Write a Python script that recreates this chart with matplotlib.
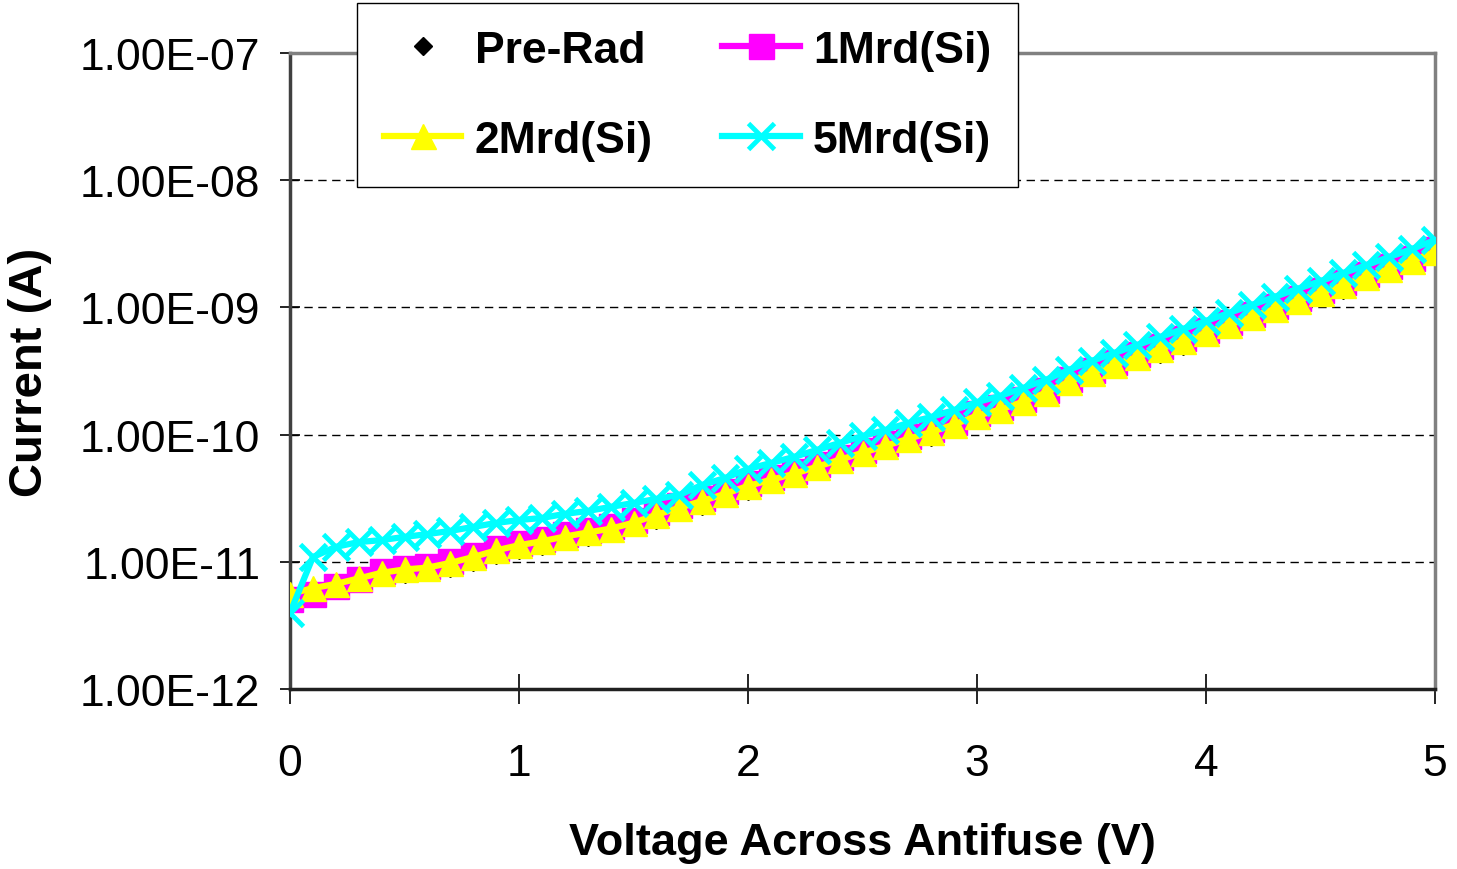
import numpy as np
import matplotlib
matplotlib.use("Agg")
import matplotlib.pyplot as plt
from matplotlib.ticker import FixedLocator, FixedFormatter

plt.rcParams['font.family'] = ['Liberation Sans', 'DejaVu Sans']

# sweep voltage, 0 to 5 V in 0.1 V steps
voltage = [round(0.1 * i, 1) for i in range(51)]

# current (A)
pre_rad = [5.2e-12, 5.8e-12, 6.1e-12, 6.9e-12, 7.6e-12, 8.0e-12, 8.3e-12, 9.0e-12, 1.00e-11, 1.13e-11,
           1.24e-11, 1.33e-11, 1.45e-11, 1.56e-11, 1.67e-11, 1.87e-11, 2.15e-11, 2.45e-11, 2.77e-11, 3.15e-11,
           3.63e-11, 4.06e-11, 4.52e-11, 5.13e-11, 5.83e-11, 6.61e-11, 7.51e-11, 8.52e-11, 9.66e-11, 1.10e-10,
           1.30e-10, 1.44e-10, 1.67e-10, 1.96e-10, 2.39e-10, 2.82e-10, 3.25e-10, 3.76e-10, 4.34e-10, 5.01e-10,
           5.81e-10, 6.72e-10, 7.76e-10, 8.97e-10, 1.04e-9, 1.20e-9, 1.38e-9, 1.60e-9, 1.85e-9, 2.14e-9,
           2.52e-9]
mrd1 = [5.10e-12, 5.58e-12, 6.45e-12, 7.32e-12, 8.46e-12, 8.94e-12, 9.27e-12, 1.015e-11, 1.13e-11, 1.28e-11,
        1.41e-11, 1.51e-11, 1.65e-11, 1.78e-11, 1.91e-11, 2.13e-11, 2.46e-11, 2.80e-11, 3.17e-11, 3.60e-11,
        4.16e-11, 4.64e-11, 5.17e-11, 5.87e-11, 6.67e-11, 7.57e-11, 8.59e-11, 9.75e-11, 1.107e-10, 1.26e-10,
        1.48e-10, 1.65e-10, 1.91e-10, 2.24e-10, 2.74e-10, 3.22e-10, 3.72e-10, 4.30e-10, 4.97e-10, 5.74e-10,
        6.64e-10, 7.68e-10, 8.87e-10, 1.026e-9, 1.19e-9, 1.37e-9, 1.58e-9, 1.83e-9, 2.12e-9, 2.45e-9,
        2.88e-9]
mrd2 = [5.6e-12, 6.2e-12, 6.7e-12, 7.4e-12, 8.2e-12, 8.7e-12, 9.0e-12, 9.8e-12, 1.09e-11, 1.23e-11,
        1.35e-11, 1.45e-11, 1.58e-11, 1.70e-11, 1.82e-11, 2.03e-11, 2.34e-11, 2.66e-11, 3.01e-11, 3.42e-11,
        3.95e-11, 4.41e-11, 4.91e-11, 5.58e-11, 6.34e-11, 7.19e-11, 8.16e-11, 9.26e-11, 1.05e-10, 1.20e-10,
        1.41e-10, 1.57e-10, 1.81e-10, 2.13e-10, 2.60e-10, 3.06e-10, 3.53e-10, 4.09e-10, 4.72e-10, 5.45e-10,
        6.31e-10, 7.30e-10, 8.43e-10, 9.75e-10, 1.13e-9, 1.30e-9, 1.50e-9, 1.74e-9, 2.01e-9, 2.33e-9,
        2.74e-9]
mrd5 = [3.96e-12, 1.09e-11, 1.31e-11, 1.43e-11, 1.48e-11, 1.57e-11, 1.65e-11, 1.75e-11, 1.88e-11, 2.02e-11,
        2.13e-11, 2.21e-11, 2.38e-11, 2.51e-11, 2.70e-11, 2.90e-11, 3.12e-11, 3.35e-11, 4.02e-11, 4.56e-11,
        5.36e-11, 5.98e-11, 6.67e-11, 7.57e-11, 8.59e-11, 9.75e-11, 1.087e-10, 1.234e-10, 1.375e-10, 1.56e-10,
        1.80e-10, 2.01e-10, 2.32e-10, 2.69e-10, 3.22e-10, 3.79e-10, 4.38e-10, 5.06e-10, 5.85e-10, 6.76e-10,
        7.82e-10, 9.04e-10, 1.045e-9, 1.21e-9, 1.40e-9, 1.61e-9, 1.86e-9, 2.15e-9, 2.49e-9, 2.88e-9,
        3.39e-9]

y_ticks = [1e-12, 1e-11, 1e-10, 1e-9, 1e-8, 1e-7]
y_tick_labels = ['1.00E-12', '1.00E-11', '1.00E-10', '1.00E-09', '1.00E-08', '1.00E-07']
x_ticks = [0, 1, 2, 3, 4, 5]

fig = plt.figure(figsize=(14.57, 8.70), dpi=100)
ax = fig.add_axes([290 / 1457, 1 - 690 / 870, 1145 / 1457, 636 / 870])

h0, = ax.plot(voltage, pre_rad, linestyle='none', marker='D', markersize=9, color='black', label='Pre-Rad', zorder=3)
h1, = ax.plot(voltage, mrd1, color='#FF00FF', lw=4.5, marker='s', markersize=18, label='1Mrd(Si)', zorder=4)
h2, = ax.plot(voltage, mrd2, color='#FFFF00', lw=4.5, marker='^', markersize=18, label='2Mrd(Si)', zorder=5)
h5, = ax.plot(voltage, mrd5, color='#00FFFF', lw=4.5, marker='x', markersize=19, mew=3.5, label='5Mrd(Si)', zorder=6)

ax.set_yscale('log')
ax.set_ylim(1e-12, 1e-7)
ax.set_xlim(0, 5)
ax.yaxis.set_major_locator(FixedLocator(y_ticks))
ax.yaxis.set_major_formatter(FixedFormatter(y_tick_labels))
ax.yaxis.set_minor_locator(FixedLocator([]))
ax.set_xticks(x_ticks)
ax.set_xticklabels([str(v) for v in x_ticks])

# dashed grid only between the frame lines
for g in y_ticks[1:-1]:
    ax.axhline(g, color='black', lw=1, ls=(0, (6, 4)), zorder=1)

ax.tick_params(axis='y', direction='inout', length=15, width=1.2, pad=14, labelsize=32)
ax.tick_params(axis='x', direction='inout', length=22, width=1.2, pad=28, labelsize=32)

ax.spines['left'].set_color('#404040')
ax.spines['bottom'].set_color('#202020')
ax.spines['top'].set_color('#808080')
ax.spines['right'].set_color('#808080')
for s in ax.spines.values():
    s.set_linewidth(2.5)

ax.set_xlabel('Voltage Across Antifuse (V)', fontsize=32.5, fontweight='bold', labelpad=27)
ax.set_ylabel('Current (A)', fontsize=34, fontweight='bold', labelpad=20)

# column-major fill: Pre-Rad / 2Mrd in column 1, 1Mrd / 5Mrd in column 2
leg = ax.legend([h0, h2, h1, h5], ['Pre-Rad', '2Mrd(Si)', '1Mrd(Si)', '5Mrd(Si)'],
                loc='upper left', bbox_to_anchor=(357 / 1457, 1 - 184 / 870, 661 / 1457, 180 / 870),
                bbox_transform=fig.transFigure, ncol=2, mode='expand', fancybox=False,
                framealpha=1, edgecolor='black', prop={'weight': 'bold', 'size': 32},
                handlelength=1.75, handletextpad=0.3, labelspacing=1.1, borderpad=0.6,
                borderaxespad=0, columnspacing=1.0)
leg.get_frame().set_linewidth(1.0)
leg.set_zorder(10)

fig.savefig('out.png', dpi=100)
